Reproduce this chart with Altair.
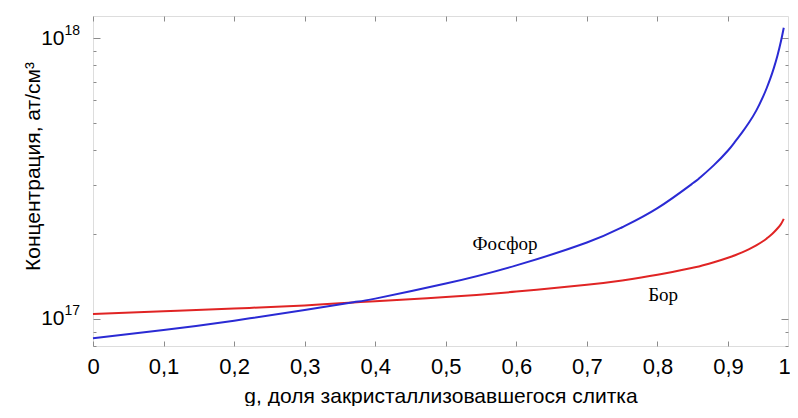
import altair as alt
import pandas as pd

# ---- data ----
g = [0.0, 0.1, 0.2, 0.3, 0.369, 0.4, 0.5, 0.6, 0.7, 0.75, 0.8, 0.85, 0.86,
     0.88, 0.9, 0.91, 0.92, 0.93, 0.94, 0.95, 0.955, 0.96, 0.965, 0.97,
     0.975, 0.979]
phosphorus = [0.852e17, 0.912e17, 0.985e17, 1.075e17, 1.145e17, 1.18e17,
              1.335e17, 1.55e17, 1.87e17, 2.12e17, 2.48e17, 3.04e17, 3.18e17,
              3.53e17, 3.98e17, 4.28e17, 4.62e17, 5.02e17, 5.52e17, 6.22e17,
              6.66e17, 7.19e17, 7.84e17, 8.66e17, 9.75e17, 10.9e17]
boron = [1.04e17, 1.063e17, 1.088e17, 1.116e17, 1.143e17, 1.155e17,
         1.195e17, 1.25e17, 1.322e17, 1.37e17, 1.435e17, 1.52e17, 1.54e17,
         1.59e17, 1.65e17, 1.685e17, 1.725e17, 1.772e17, 1.827e17, 1.894e17,
         1.935e17, 1.98e17, 2.034e17, 2.098e17, 2.175e17, 2.27e17]

x_ticks = [0.0, 0.1, 0.2, 0.3, 0.4, 0.5, 0.6, 0.7, 0.8, 0.9]
x_label_values = [0.0, 0.1, 0.2, 0.3, 0.4, 0.5, 0.6, 0.7, 0.8, 0.9, 0.985]
y_major = [1e17, 1e18]
y_minor = [8e16, 9e16, 2e17, 3e17, 4e17, 5e17, 6e17, 7e17, 8e17, 9e17]

ann_text = ["Фосфор", "Бор"]
ann_g = [0.584, 0.808]
ann_c = [1.85e17, 1.22e17]

x_title = "g, доля закристаллизовавшегося слитка"
y_title = "Концентрация, ат/см³"

W, H = 695, 330
X_DOMAIN = [0, 0.985]
Y_DOMAIN = [8e16, 1.2e18]

df_p = pd.DataFrame({"g": g, "c": phosphorus})
df_b = pd.DataFrame({"g": g, "c": boron})
df_a = pd.DataFrame({"g": ann_g, "c": ann_c, "t": ann_text})

xs = alt.Scale(domain=X_DOMAIN, nice=False, zero=False)
ys = alt.Scale(type="log", domain=Y_DOMAIN, nice=False)

FONT = "Liberation Sans"
TICK_COLOR = "#8c8c8c"
major_test = "datum.value == 1e17 || datum.value == 1e18"

x_label_axis = alt.Axis(
    values=x_label_values, ticks=False, domain=False, grid=False,
    labelExpr="datum.value == 0 ? '0' : (datum.value > 0.95 ? '1' : replace(format(datum.value, '.1f'), '.', ','))",
    labelOffset={"condition": {"test": "datum.value > 0.95", "value": -4}, "value": 0},
    labelFont=FONT, labelFontSize=22, labelColor="black", labelPadding=10,
    labelFlush=False, labelOverlap=False,
    title=x_title, titleFont=FONT, titleFontSize=21, titleFontWeight="normal",
    titleColor="black", titleBaseline="alphabetic", titleY=56,
)
y_label_axis = alt.Axis(
    values=y_major, ticks=False, domain=False, grid=False,
    labelExpr="'10'",
    labelFont=FONT, labelFontSize=21, labelColor="black", labelPadding=29,
    labelOverlap=False,
    title=y_title, titleFont=FONT, titleFontSize=21, titleFontWeight="normal",
    titleColor="black", titleX=-50, titleY=150,
)
y_exp_axis = alt.Axis(
    orient="left", values=y_major, ticks=False, domain=False, grid=False,
    labelExpr="datum.value == 1e17 ? '17' : '18'",
    labelFont=FONT, labelFontSize=14, labelColor="black", labelPadding=29,
    labelAlign="left", labelOffset=-8, labelOverlap=False, title=None,
)


def x_tick_axis(orient):
    return alt.Axis(orient=orient, offset=-H, values=x_ticks, labels=False,
                    domain=False, grid=False, ticks=True, tickSize=5,
                    tickColor=TICK_COLOR, tickWidth=1, title=None)


def y_tick_axis(orient):
    return alt.Axis(orient=orient, offset=-W, values=y_major + y_minor,
                    labels=False, domain=False, grid=False, ticks=True,
                    tickSize={"condition": {"test": major_test, "value": 7}, "value": 3},
                    tickColor=TICK_COLOR, tickWidth=1, title=None)


blue = alt.Chart(df_p).mark_line(color="#2a2ad4", strokeWidth=2, interpolate="natural").encode(
    x=alt.X("g:Q", scale=xs, axis=x_label_axis),
    y=alt.Y("c:Q", scale=ys, axis=y_label_axis),
)

red = alt.Chart(df_b).mark_line(color="#e02424", strokeWidth=2, interpolate="natural").encode(
    x=alt.X("g:Q", scale=xs, axis=x_tick_axis("top")),
    y=alt.Y("c:Q", scale=ys, axis=y_tick_axis("right")),
)

ann = alt.Chart(df_a).mark_text(font="Liberation Serif", fontSize=19, color="black").encode(
    x=alt.X("g:Q", scale=xs, axis=x_tick_axis("bottom")),
    y=alt.Y("c:Q", scale=ys, axis=y_tick_axis("left")),
    text="t:N",
)

exp_layer = alt.Chart(df_p).mark_point(opacity=0).encode(
    x=alt.X("g:Q", scale=xs, axis=None),
    y=alt.Y("c:Q", scale=ys, axis=y_exp_axis),
)

chart = alt.layer(red, blue, ann, exp_layer).resolve_axis(
    x="independent", y="independent"
).properties(
    width=W, height=H,
    autosize=alt.AutoSizeParams(type="none"),
    padding={"left": 85, "top": 8, "right": 2, "bottom": 60},
).configure_view(
    stroke="#cfcfcf", strokeWidth=1
).configure(background="white")

chart.save("out.html", embed_options={"renderer": "svg", "actions": False})
